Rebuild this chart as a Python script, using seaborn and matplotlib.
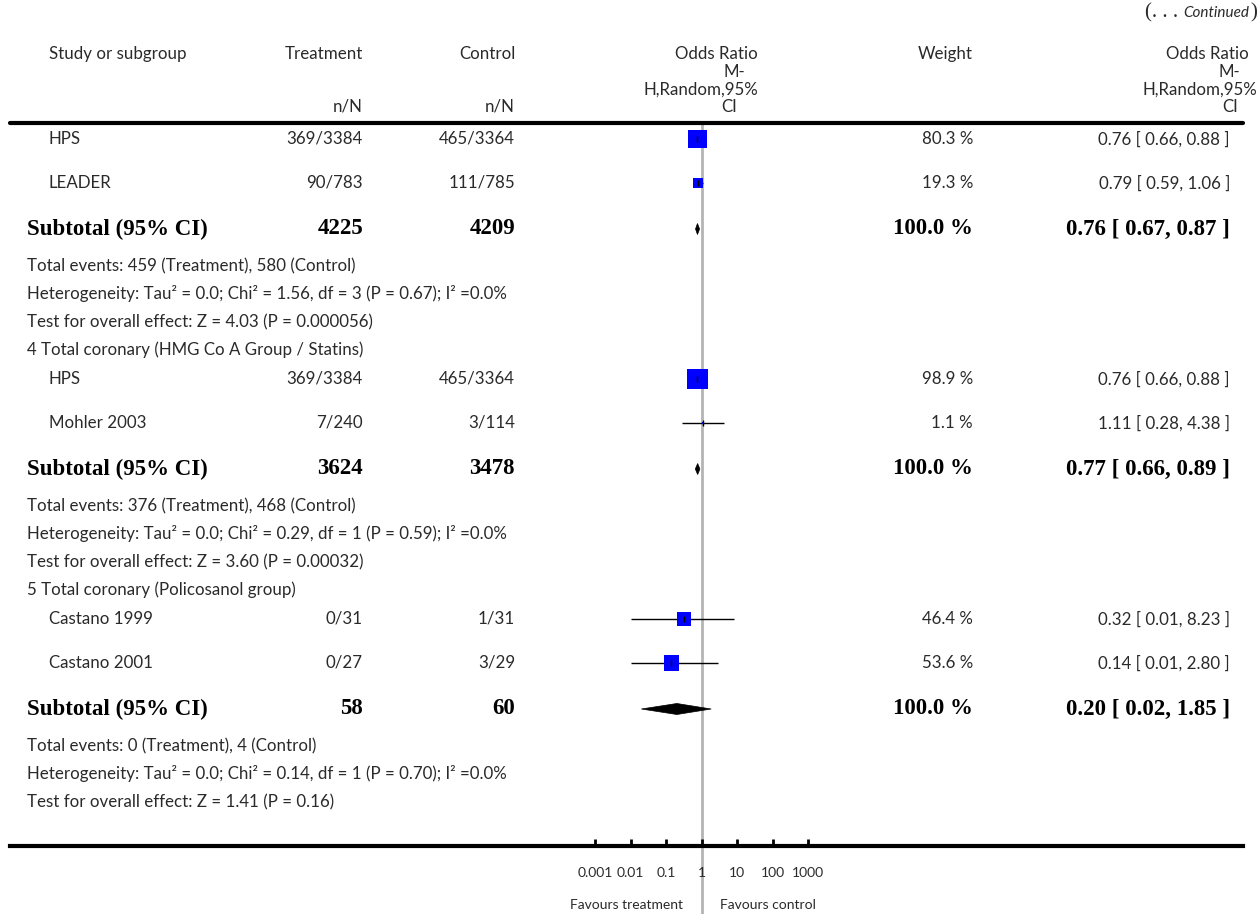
import numpy as np
import pandas as pd
import matplotlib
matplotlib.use("Agg")
import matplotlib.pyplot as plt
import seaborn as sns
from matplotlib.transforms import blended_transform_factory
from matplotlib.ticker import FixedLocator, FixedFormatter, NullLocator

# ---------------- data ----------------
study_names = ["HPS", "LEADER", "HPS", "Mohler 2003", "Castano 1999", "Castano 2001"]
study_group = [3, 3, 4, 4, 5, 5]
treat_nN = ["369/3384", "90/783", "369/3384", "7/240", "0/31", "0/27"]
ctrl_nN = ["465/3364", "111/785", "465/3364", "3/114", "1/31", "3/29"]
odds = [0.76, 0.79, 0.76, 1.11, 0.32, 0.14]
ci_low = [0.66, 0.59, 0.66, 0.28, 0.01, 0.01]
ci_high = [0.88, 1.06, 0.88, 4.38, 8.23, 2.80]
weights = [80.3, 19.3, 98.9, 1.1, 46.4, 53.6]

group_ids = [3, 4, 5]
group_titles = [None,
                "4 Total coronary (HMG Co A Group / Statins)",
                "5 Total coronary (Policosanol group)"]
sub_treat_N = [4225, 3624, 58]
sub_ctrl_N = [4209, 3478, 60]
sub_or = [0.76, 0.77, 0.20]
sub_low = [0.67, 0.66, 0.02]
sub_high = [0.87, 0.89, 1.85]
sub_weight = [100.0, 100.0, 100.0]
total_events = ["Total events: 459 (Treatment), 580 (Control)",
                "Total events: 376 (Treatment), 468 (Control)",
                "Total events: 0 (Treatment), 4 (Control)"]
heterogeneity = ["Heterogeneity: Tau² = 0.0; Chi² = 1.56, df = 3 (P = 0.67); I² =0.0%",
                 "Heterogeneity: Tau² = 0.0; Chi² = 0.29, df = 1 (P = 0.59); I² =0.0%",
                 "Heterogeneity: Tau² = 0.0; Chi² = 0.14, df = 1 (P = 0.70); I² =0.0%"]
overall_effect = ["Test for overall effect: Z = 4.03 (P = 0.000056)",
                  "Test for overall effect: Z = 3.60 (P = 0.00032)",
                  "Test for overall effect: Z = 1.41 (P = 0.16)"]

tick_values = [0.001, 0.01, 0.1, 1, 10, 100, 1000]
tick_labels = ["0.001", "0.01", "0.1", "1", "10", "100", "1000"]

# ---------------- layout ----------------
W, H = 1259, 914
PX0, PXD = 701.7, 35.5           # pixel of OR=1 and pixels per decade


def px2x(px):
    return 10 ** ((px - PX0) / PXD)


sns.set_theme(style="white")
plt.rcParams["font.family"] = ["Lato", "DejaVu Sans"]
TXT = "#2a2a2a"
SANS = ["Lato", "DejaVu Sans"]
SERIF = ["Liberation Serif", "DejaVu Serif"]
FS = 12.2
BFS = 16.5

fig = plt.figure(figsize=(W / 100, H / 100), dpi=100)
ax = fig.add_axes([0, 0, 1, 1])
ax.set_xscale("log")
ax.set_xlim(px2x(0), px2x(W))
ax.set_ylim(H, 0)
ax.set_axisbelow(False)
tr = blended_transform_factory(ax.transAxes, ax.transData)


def X(px):
    return px / W


# build rows
rows = []
for gi, g in enumerate(group_ids):
    if group_titles[gi] is not None:
        rows.append(("group", gi))
    for si in range(len(study_names)):
        if study_group[si] == g:
            rows.append(("study", si))
    rows.append(("subtotal", gi))
    rows.append(("events", gi))
    rows.append(("het", gi))
    rows.append(("effect", gi))

ys = []
y = 139
prev = None
for kind, _ in rows:
    if prev is not None:
        if kind == "study":
            y += 44 if prev == "study" else 29
        elif kind == "subtotal":
            y += 46
        elif prev == "subtotal":
            y += 37
        else:
            y += 28
    ys.append(y)
    prev = kind

# study data frame
sdf = pd.DataFrame({"name": study_names, "or": odds, "lo": ci_low, "hi": ci_high, "w": weights})
sdf["y"] = [ys[i] for i, r in enumerate(rows) if r[0] == "study"]

# CI lines
ax.hlines(sdf["y"], sdf["lo"], sdf["hi"], color="black", lw=1.0, zorder=2)
# squares
sns.scatterplot(data=sdf, x="or", y="y", size="w", sizes=(0, 228), size_norm=(0, 100),
                marker="s", color="#0000ff", linewidth=0, legend=False, ax=ax, zorder=3)
# point estimate ticks
ax.scatter(sdf["or"], sdf["y"], marker="|", s=14, color="black", linewidths=1.0, zorder=4)

# subtotal diamonds
sub_y = [ys[i] for i, r in enumerate(rows) if r[0] == "subtotal"]
for gi in range(len(group_ids)):
    yy = sub_y[gi]
    h = 5.5
    ax.fill([sub_low[gi], sub_or[gi], sub_high[gi], sub_or[gi]],
            [yy, yy - h, yy, yy + h], color="black", lw=0.5, zorder=3)

# line of no effect
ax.vlines(1, 124, H, color="#b4b4b4", lw=2, zorder=1)

# header line
ax.axhline(123, xmin=X(10), xmax=X(1243), color="black", lw=3)

# x axis as the bottom spine
for s in ["left", "right", "top"]:
    ax.spines[s].set_visible(False)
ax.spines["bottom"].set_position(("data", 846))
ax.spines["bottom"].set_linewidth(3)
ax.spines["bottom"].set_color("black")
ax.spines["bottom"].set_bounds(px2x(10), px2x(1243))
ax.xaxis.set_major_locator(FixedLocator(tick_values))
ax.xaxis.set_major_formatter(FixedFormatter(tick_labels))
ax.xaxis.set_minor_locator(NullLocator())
ax.tick_params(axis="x", which="major", direction="in", length=5, width=2, color="black",
               pad=15, labelsize=10, labelcolor=TXT, bottom=True)
ax.set_yticks([])
ax.set_xlabel("")
ax.set_ylabel("")

# ---------------- text ----------------
def t(px, y, s, ha="left", bold=False, **kw):
    if bold:
        return ax.text(X(px), y, s, ha=ha, va="center", transform=tr, fontsize=BFS,
                       family=SERIF, fontweight="bold", color="black", **kw)
    return ax.text(X(px), y, s, ha=ha, va="center", transform=tr, fontsize=FS,
                   family=SANS, color=TXT, **kw)


# header
t(49, 54, "Study or subgroup")
t(363, 54, "Treatment", ha="right")
t(515, 54, "Control", ha="right")
t(363, 107, "n/N", ha="right")
t(515, 107, "n/N", ha="right")
t(758, 54, "Odds Ratio", ha="right")
t(745, 72, "M-", ha="right")
t(758, 90, "H,Random,95%", ha="right")
t(737, 107, "CI", ha="right")
t(973, 54, "Weight", ha="right")
t(1249, 54, "Odds Ratio", ha="right")
t(1240, 72, "M-", ha="right")
t(1257, 90, "H,Random,95%", ha="right")
t(1238, 107, "CI", ha="right")

fig.canvas.draw()
r = fig.canvas.get_renderer()
c1 = ax.text(X(1257), 13, ")", ha="right", va="center", transform=tr, fontsize=15,
             family=SERIF, color=TXT)
x0 = c1.get_window_extent(r).x0
c2 = ax.text(x0 / W - 1 / W, 13, "Continued", ha="right", va="center", transform=tr,
             fontsize=11, family=SANS, style="italic", color=TXT)
x0 = c2.get_window_extent(r).x0
ax.text(x0 / W - 5 / W, 13, "(. . .", ha="right", va="center", transform=tr, fontsize=15,
        family=SERIF, color=TXT)

for (kind, idx), yy in zip(rows, ys):
    if kind == "group":
        t(27, yy, group_titles[idx])
    elif kind == "study":
        t(49, yy, study_names[idx])
        t(363, yy, treat_nN[idx], ha="right")
        t(515, yy, ctrl_nN[idx], ha="right")
        t(973, yy, f"{weights[idx]:.1f} %", ha="right")
        t(1230, yy, f"{odds[idx]:.2f} [ {ci_low[idx]:.2f}, {ci_high[idx]:.2f} ]", ha="right")
    elif kind == "subtotal":
        t(27, yy, "Subtotal (95% CI)", bold=True)
        t(363, yy, f"{sub_treat_N[idx]}", ha="right", bold=True)
        t(515, yy, f"{sub_ctrl_N[idx]}", ha="right", bold=True)
        t(973, yy, f"{sub_weight[idx]:.1f} %", ha="right", bold=True)
        t(1230, yy, f"{sub_or[idx]:.2f} [ {sub_low[idx]:.2f}, {sub_high[idx]:.2f} ]",
          ha="right", bold=True)
    elif kind == "events":
        t(27, yy, total_events[idx])
    elif kind == "het":
        t(27, yy, heterogeneity[idx])
    elif kind == "effect":
        t(27, yy, overall_effect[idx])

# favours labels
ax.text(X(683), 905, "Favours treatment", ha="right", va="center", transform=tr,
        fontsize=10, family=SANS, color=TXT)
ax.text(X(720), 905, "Favours control", ha="left", va="center", transform=tr,
        fontsize=10, family=SANS, color=TXT)

fig.savefig("out.png", dpi=100)
